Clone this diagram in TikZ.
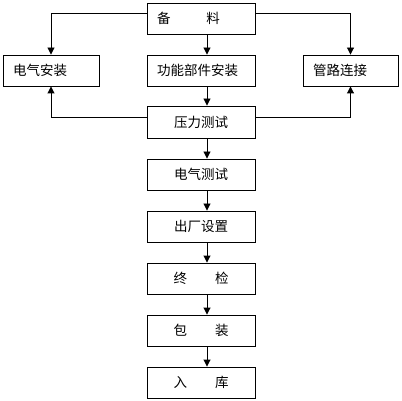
\documentclass[tikz,border=0pt]{standalone}
\usepackage{fontspec}
\newfontfamily\cjk{Noto Sans CJK SC}
\usetikzlibrary{arrows.meta}
\begin{document}
\begin{tikzpicture}[x=1pt,y=-1pt,
  box/.style={draw,line width=0.9pt,minimum height=31pt,inner sep=0pt,font=\cjk\fontsize{13.5pt}{14pt}\selectfont},
  lbox/.style={box,text width=#1,align=left,inner xsep=10pt},
  cbox/.style={box,minimum width=108pt},
  arr/.style={line width=0.9pt,-{Triangle[width=7pt,length=7pt]}}]
\useasboundingbox (0,0) rectangle (402,401);
\node[lbox=88pt] (top) at (201,18.5) {备\hspace{36pt}料};
\node[lbox=76pt] (eleci) at (51,70.5) {电气安装};
\node[lbox=88pt] (func) at (201,70.5) {功能部件安装};
\node[lbox=75pt] (pipe) at (350.5,70.5) {管路连接};
\node[cbox,minimum height=32pt] (press) at (201,122) {压力测试};
\node[cbox] (etest) at (201,174.5) {电气测试};
\node[cbox] (fact) at (201,226.5) {出厂设置};
\node[cbox] (final) at (201,278.5) {终\hspace{28pt}检};
\node[cbox] (pack) at (201,330.5) {包\hspace{28pt}装};
\node[cbox] (store) at (201,382.5) {入\hspace{28pt}库};
\draw[arr] (top.west |- 0,13) -| (eleci.north);
\draw[arr] (top.east |- 0,13) -| (pipe.north);
\draw[arr] (press.west |- 0,117) -| (eleci.south);
\draw[arr] (press.east |- 0,117) -| (pipe.south);
\draw[arr] (top.south -| 207,0) -- (func.north -| 207,0);
\draw[arr] (func.south -| 207,0) -- (press.north -| 207,0);
\draw[arr] (press.south -| 207,0) -- (etest.north -| 207,0);
\draw[arr] (etest.south -| 207,0) -- (fact.north -| 207,0);
\draw[arr] (fact.south -| 207,0) -- (final.north -| 207,0);
\draw[arr] (final.south -| 207,0) -- (pack.north -| 207,0);
\draw[arr] (pack.south -| 207,0) -- (store.north -| 207,0);
\end{tikzpicture}
\end{document}
